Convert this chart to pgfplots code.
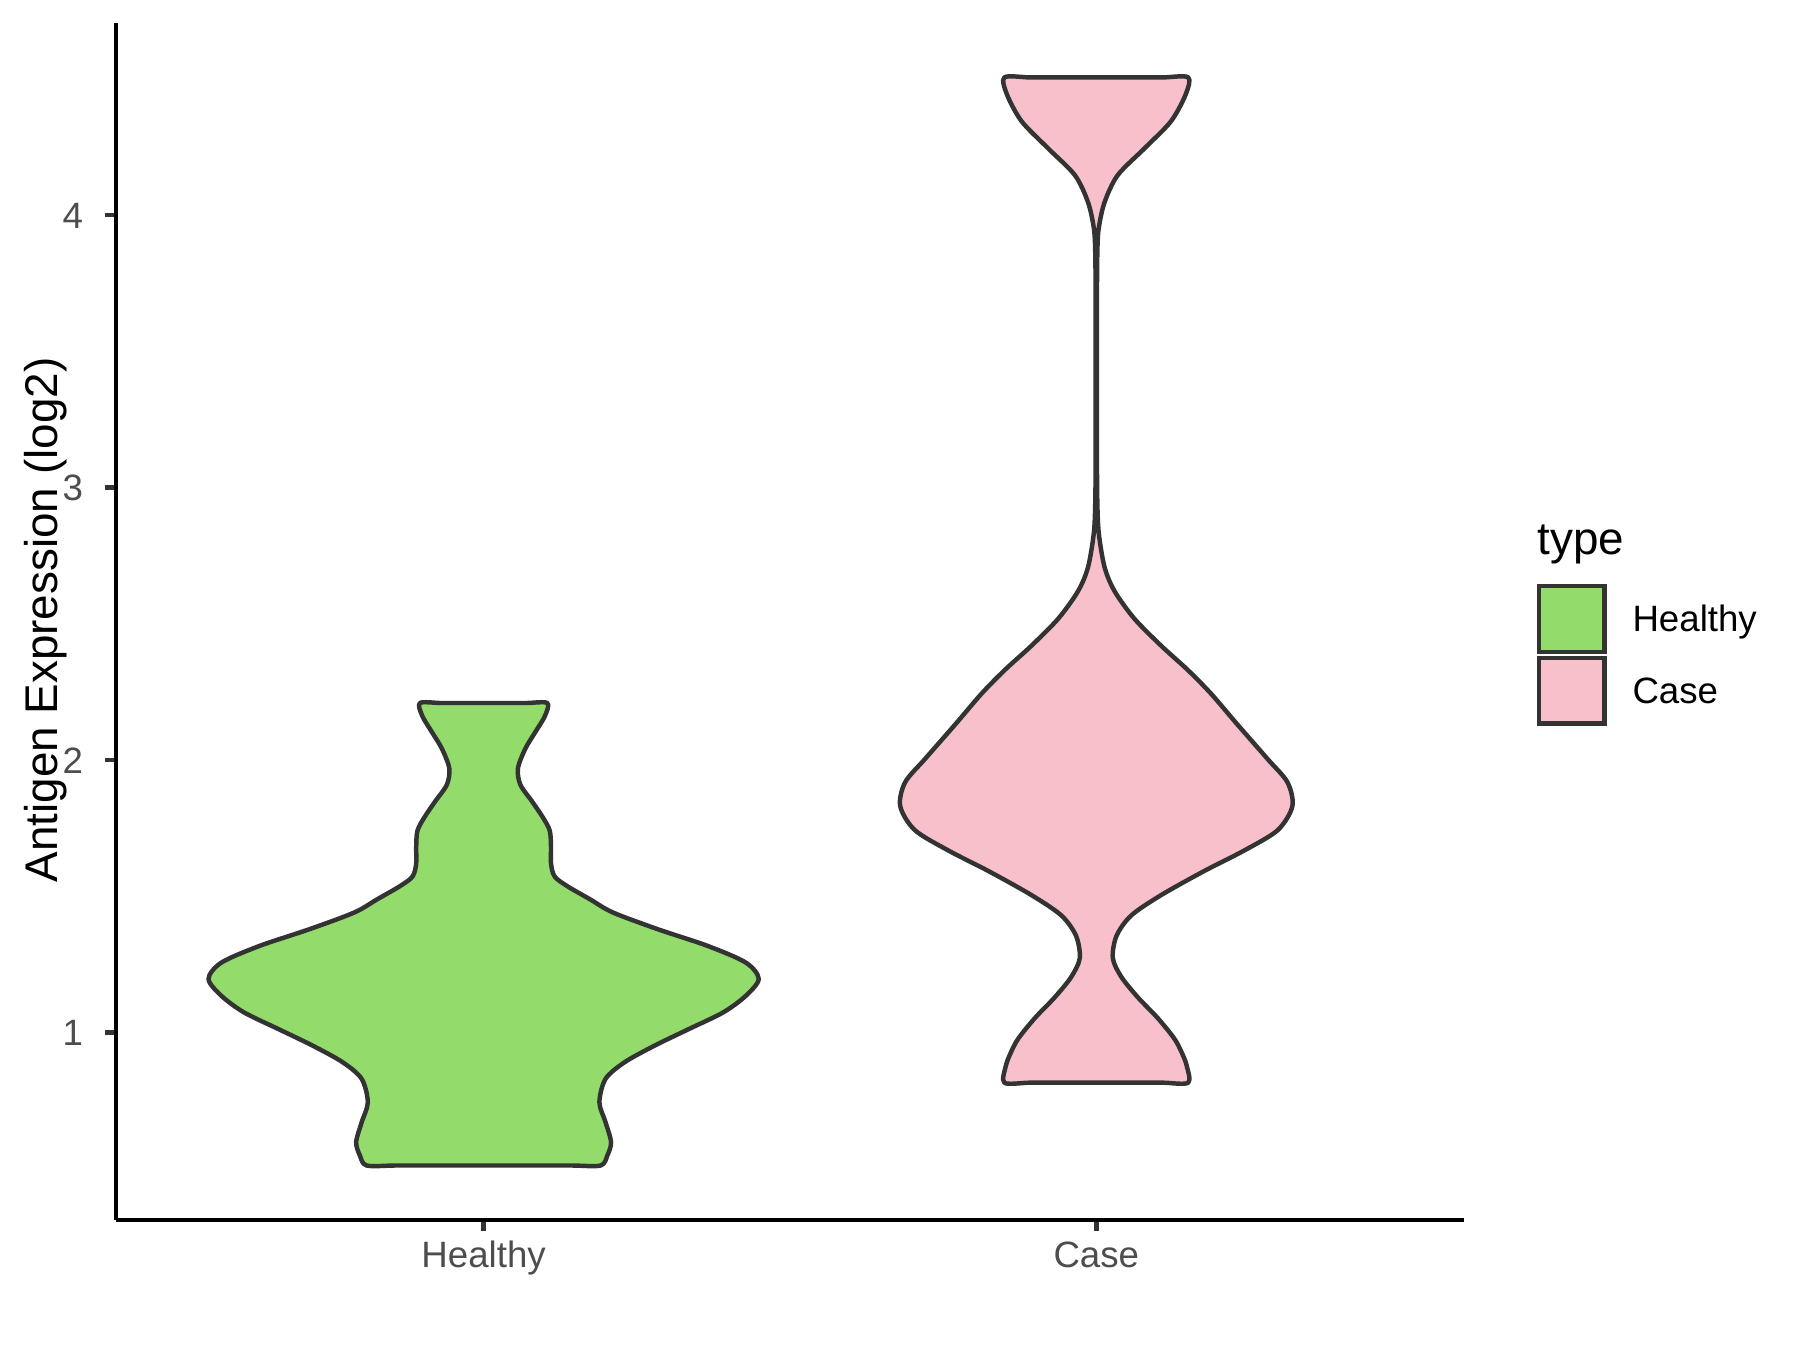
\documentclass[border=0pt]{standalone}
\usepackage{fontspec}
\setmainfont{Liberation Sans}
\usepackage{pgfplots}
\pgfplotsset{compat=1.18}
\usepackage{pgfplotstable}

\definecolor{hgreen}{RGB}{147,219,107}
\definecolor{cpink}{RGB}{247,192,203}
\definecolor{outl}{RGB}{51,51,51}
\definecolor{tickc}{RGB}{77,77,77}

% violin outline: signed offset from the category centre (x units) and expression value,
% walked round the outline starting at the middle of the bottom edge
\pgfplotstableread{
y dx
0.511 0
0.511 0.05
0.511 0.10
0.511 0.145
0.511 0.191
0.548 0.202
0.597 0.208
0.670 0.199
0.743 0.189
0.829 0.199
0.890 0.230
0.951 0.279
1.012 0.335
1.073 0.391
1.134 0.428
1.196 0.449
1.256 0.428
1.317 0.366
1.378 0.285
1.440 0.211
1.488 0.174
1.536 0.137
1.572 0.116
1.620 0.110
1.680 0.110
1.740 0.108
1.788 0.097
1.848 0.079
1.909 0.060
1.969 0.056
2.041 0.068
2.101 0.084
2.161 0.100
2.209 0.104
2.209 0.07
2.209 0.035
2.209 0
2.209 -0.035
2.209 -0.07
2.209 -0.104
2.161 -0.100
2.101 -0.084
2.041 -0.068
1.969 -0.056
1.909 -0.060
1.848 -0.079
1.788 -0.097
1.740 -0.108
1.680 -0.110
1.620 -0.110
1.572 -0.116
1.536 -0.137
1.488 -0.174
1.440 -0.211
1.378 -0.285
1.317 -0.366
1.256 -0.428
1.196 -0.449
1.134 -0.428
1.073 -0.391
1.012 -0.335
0.951 -0.279
0.890 -0.230
0.829 -0.199
0.743 -0.189
0.670 -0.199
0.597 -0.208
0.548 -0.202
0.511 -0.191
0.511 -0.145
0.511 -0.10
0.511 -0.05
0.511 0
}\healthy

\pgfplotstableread{
y dx
0.815 0
0.815 0.04
0.815 0.075
0.815 0.11
0.815 0.150
0.878 0.1475
0.928 0.139
0.978 0.127
1.053 0.100
1.128 0.068
1.203 0.041
1.272 0.027
1.354 0.033
1.429 0.057
1.504 0.106
1.592 0.176
1.667 0.241
1.742 0.296
1.830 0.320
1.918 0.312
2.005 0.279
2.131 0.230
2.244 0.187
2.331 0.149
2.419 0.106
2.519 0.062
2.619 0.030
2.707 0.0136
2.834 0.004
2.957 0.0016
3.156 0.001
3.403 0.001
3.651 0.001
3.849 0.0016
3.949 0.0038
4.048 0.0136
4.147 0.035
4.246 0.079
4.345 0.122
4.444 0.146
4.506 0.150
4.506 0.11
4.506 0.075
4.506 0.04
4.506 0
4.506 -0.04
4.506 -0.075
4.506 -0.11
4.506 -0.150
4.444 -0.146
4.345 -0.122
4.246 -0.079
4.147 -0.035
4.048 -0.0136
3.949 -0.0038
3.849 -0.0016
3.651 -0.001
3.403 -0.001
3.156 -0.001
2.957 -0.0016
2.834 -0.004
2.707 -0.0136
2.619 -0.030
2.519 -0.062
2.419 -0.106
2.331 -0.149
2.244 -0.187
2.131 -0.230
2.005 -0.279
1.918 -0.312
1.830 -0.320
1.742 -0.296
1.667 -0.241
1.592 -0.176
1.504 -0.106
1.429 -0.057
1.354 -0.033
1.272 -0.027
1.203 -0.041
1.128 -0.068
1.053 -0.100
0.978 -0.127
0.928 -0.139
0.878 -0.1475
0.815 -0.150
0.815 -0.11
0.815 -0.075
0.815 -0.04
0.815 0
}\casetab

\begin{document}
\begin{tikzpicture}
\path (0,0) rectangle (432pt,324pt);
\begin{axis}[
  at={(27.84pt,31.2pt)}, anchor=south west,
  scale only axis, width=323.5pt, height=287.3pt,
  xmin=0.4, xmax=2.6, ymin=0.311, ymax=4.706,
  axis x line*=bottom, axis y line*=left,
  axis line style={line width=1.07pt, black, -},
  xtick={1,2}, xticklabels={Healthy,Case},
  ytick={1,2,3,4},
  tick align=outside, major tick length=2.75pt,
  minor tick num=0,
  tick style={line width=1.07pt, color=outl},
  ticklabel style={font=\fontsize{8.8}{10}\selectfont, text=tickc},
  xticklabel style={anchor=base, inner sep=0pt, yshift=-8.65pt},
  yticklabel style={anchor=base east, inner sep=0pt, xshift=-4.95pt, yshift=-3.15pt},
  /pgf/number format/assume math mode=true,
  clip=false,
]
\addplot[fill=hgreen, draw=outl, line width=1.07pt, line join=round, smooth, tension=0.5]
  table[x expr=1+\thisrow{dx}, y=y] {\healthy};
\addplot[fill=cpink, draw=outl, line width=1.07pt, line join=round, smooth, tension=0.5]
  table[x expr=2+\thisrow{dx}, y=y] {\casetab};
\end{axis}

% y axis title
\node[rotate=90, anchor=base, inner sep=0pt, font=\fontsize{11}{13}\selectfont] at (13.8pt,175.2pt) {Antigen Expression (log2)};

% legend
\node[anchor=base west, inner sep=0pt, font=\fontsize{11}{13}\selectfont] at (368.8pt,190.8pt) {type};
\draw[outl, line width=1.07pt, fill=hgreen] (369.4pt,167.5pt) rectangle (385.1pt,183.4pt);
\draw[outl, line width=1.07pt, fill=cpink] (369.4pt,150.4pt) rectangle (385.1pt,166.1pt);
\node[anchor=base west, inner sep=0pt, font=\fontsize{8.8}{10}\selectfont] at (391.6pt,172.4pt) {Healthy};
\node[anchor=base west, inner sep=0pt, font=\fontsize{8.8}{10}\selectfont] at (391.6pt,155.2pt) {Case};
\end{tikzpicture}
\end{document}
